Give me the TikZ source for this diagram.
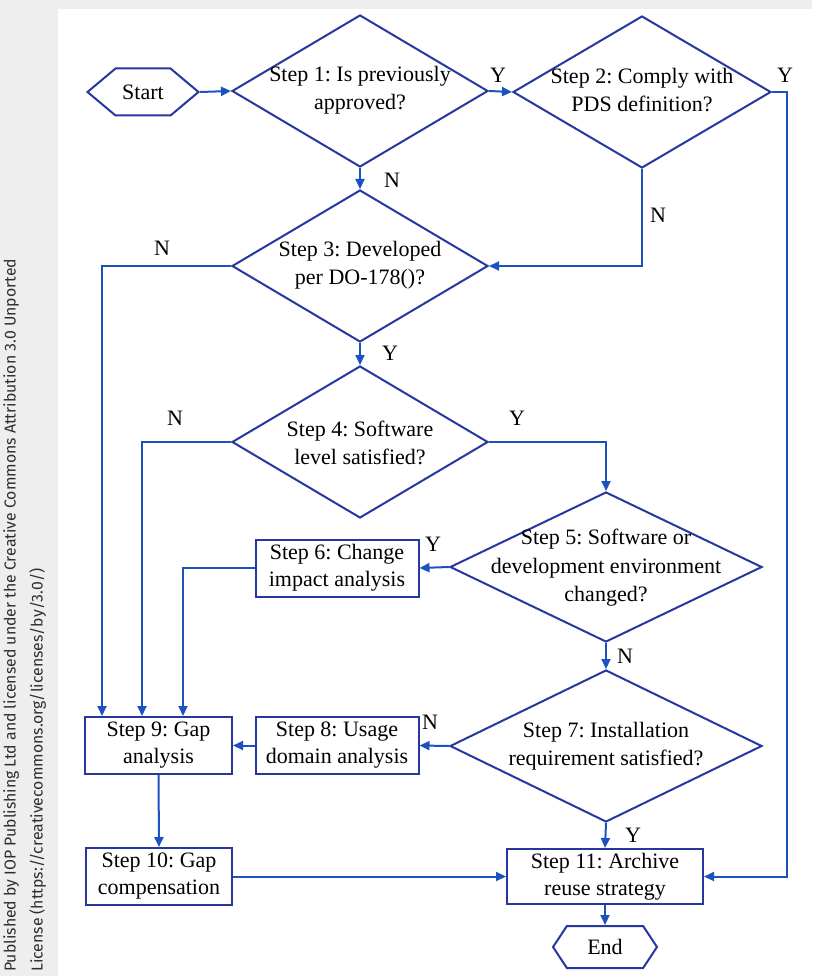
\documentclass[tikz,border=0pt]{standalone}
\usepackage{fontspec}
\setmainfont{Liberation Serif}
\newfontfamily\notefont{Fira Sans}
\usetikzlibrary{shapes.geometric,shapes.symbols,arrows.meta}
\definecolor{shapeblue}{RGB}{38,56,160}
\definecolor{lineblue}{RGB}{28,82,192}
\definecolor{panelgray}{RGB}{238,238,238}
\definecolor{notegray}{RGB}{45,45,45}
\frenchspacing

\tikzset{
  decision/.style={diamond,draw=shapeblue,line width=2pt,inner sep=0pt,
    minimum width=256pt,minimum height=152pt},
  stepbox/.style={rectangle,draw=shapeblue,line width=2pt,align=center,
    inner sep=0pt,minimum height=57pt,font=\fontsize{22}{27}\selectfont},
  terminal/.style={signal,signal to=east and west,draw=shapeblue,
    line width=2pt,inner sep=0pt,font=\fontsize{22}{27}\selectfont},
  qtext/.style={align=center,font=\fontsize{22}{28.5}\selectfont},
  yn/.style={font=\fontsize{22}{26}\selectfont},
  arr/.style={draw=lineblue,line width=2pt,-{Triangle[length=10pt,width=9pt]}},
}

\begin{document}
\begin{tikzpicture}[x=1pt,y=-1pt]
  % page and panel
  \fill[panelgray] (0,0) rectangle (812,976);
  \fill[white] (58,9) rectangle (812,976);
  \useasboundingbox (0,0) rectangle (812,976);
  \node[rotate=90,anchor=north west,align=left,text=notegray,inner sep=0pt,
    font=\notefont\fontsize{15.8}{27}\selectfont] (note) at (3,972)
    {Published by IOP Publishing Ltd and licensed under the Creative Commons Attribution 3.0 Unported\\
     License (https://creativecommons.org/licenses/by/3.0/)};

  % shapes
  \node[terminal,minimum width=111pt,minimum height=47pt,signal pointer angle=80] (start) at (143,92) {Start};
  \node[decision] (s1) at (360,91) {};
  \node[decision,minimum width=258pt] (s2) at (642,92) {};
  \node[decision] (s3) at (360,266) {};
  \node[decision] (s4) at (360,442) {};
  \node[decision,minimum width=312pt,minimum height=150pt] (s5) at (606,567) {};
  \node[decision,minimum width=312pt] (s7) at (606,746) {};
  \node[stepbox,minimum width=163pt] (s6) at (337,568) {Step 6: Change\\impact analysis};
  \node[stepbox,minimum width=163pt] (s8) at (337,745.5) {Step 8: Usage\\domain analysis};
  \node[stepbox,minimum width=147pt] (s9) at (158.5,745.5) {Step 9: Gap\\analysis};
  \node[stepbox,minimum width=146pt] (s10) at (159,876.5) {Step 10: Gap\\compensation};
  \node[stepbox,minimum width=196pt,minimum height=55pt] (s11) at (605,876.5) {Step 11: Archive\\reuse strategy};
  \node[terminal,minimum width=104pt,minimum height=42pt,signal pointer angle=113] (end) at (605,947) {End};

  % texts in the decisions
  \node[qtext] (s1t) at (360,90) {Step 1: Is previously\\approved?};
  \node[qtext] (s2t) at (642,90) {Step 2: Comply with\\PDS definition?};
  \node[qtext] (s3t) at (360,265) {Step 3: Developed\\per DO-178()?};
  \node[qtext] (s4t) at (360,443) {Step 4: Software\\level satisfied?};
  \node[qtext] (s5t) at (606,568) {Step 5: Software or\\development environment\\changed?};
  \node[qtext] (s7t) at (606,746) {Step 7: Installation\\requirement satisfied?};

  % helper columns
  \coordinate (c3) at (102,0);
  \coordinate (c4) at (142,0);
  \coordinate (c6) at (183,0);
  \coordinate (c2) at (787,0);

  % connectors
  \draw[arr] (start.east) -- (s1.west);
  \draw[arr] (s1.east) -- (s2.west);
  \draw[arr] (s1.south) -- (s3.north);
  \draw[arr] (s2.south) |- (s3.east);
  \draw[arr] (s2.east) -- (c2 |- s2.east) |- (s11.east);
  \draw[arr] (s3.west) -| (c3 |- s9.north);
  \draw[arr] (s3.south) -- (s4.north);
  \draw[arr] (s4.west) -| (c4 |- s9.north);
  \draw[arr] (s4.east) -| (s5.north);
  \draw[arr] (s5.west) -- (s6.east);
  \draw[arr] (s6.west) -| (c6 |- s9.north);
  \draw[arr] (s5.south) -- (s7.north);
  \draw[arr] (s7.west) -- (s8.east);
  \draw[arr] (s8.west) -- (s9.east);
  \draw[arr] (s9.south) -- (s10.north);
  \draw[arr] (s10.east) -- (s11.west);
  \draw[arr] (s7.south) -- (s11.north);
  \draw[arr] (s11.south) -- (end.north);

  % branch labels
  \node[yn] (y12) at (498,75) {Y};
  \node[yn] (y2) at (785,75) {Y};
  \node[yn] (n13) at (392,180) {N};
  \node[yn] (n23) at (658,215) {N};
  \node[yn] (n3) at (162,248) {N};
  \node[yn] (y34) at (390,353) {Y};
  \node[yn] (n4) at (175,418) {N};
  \node[yn] (y45) at (517,418) {Y};
  \node[yn] (y56) at (433,544) {Y};
  \node[yn] (n57) at (625,656) {N};
  \node[yn] (n78) at (430,722) {N};
  \node[yn] (y711) at (633,835) {Y};
\end{tikzpicture}
\end{document}
